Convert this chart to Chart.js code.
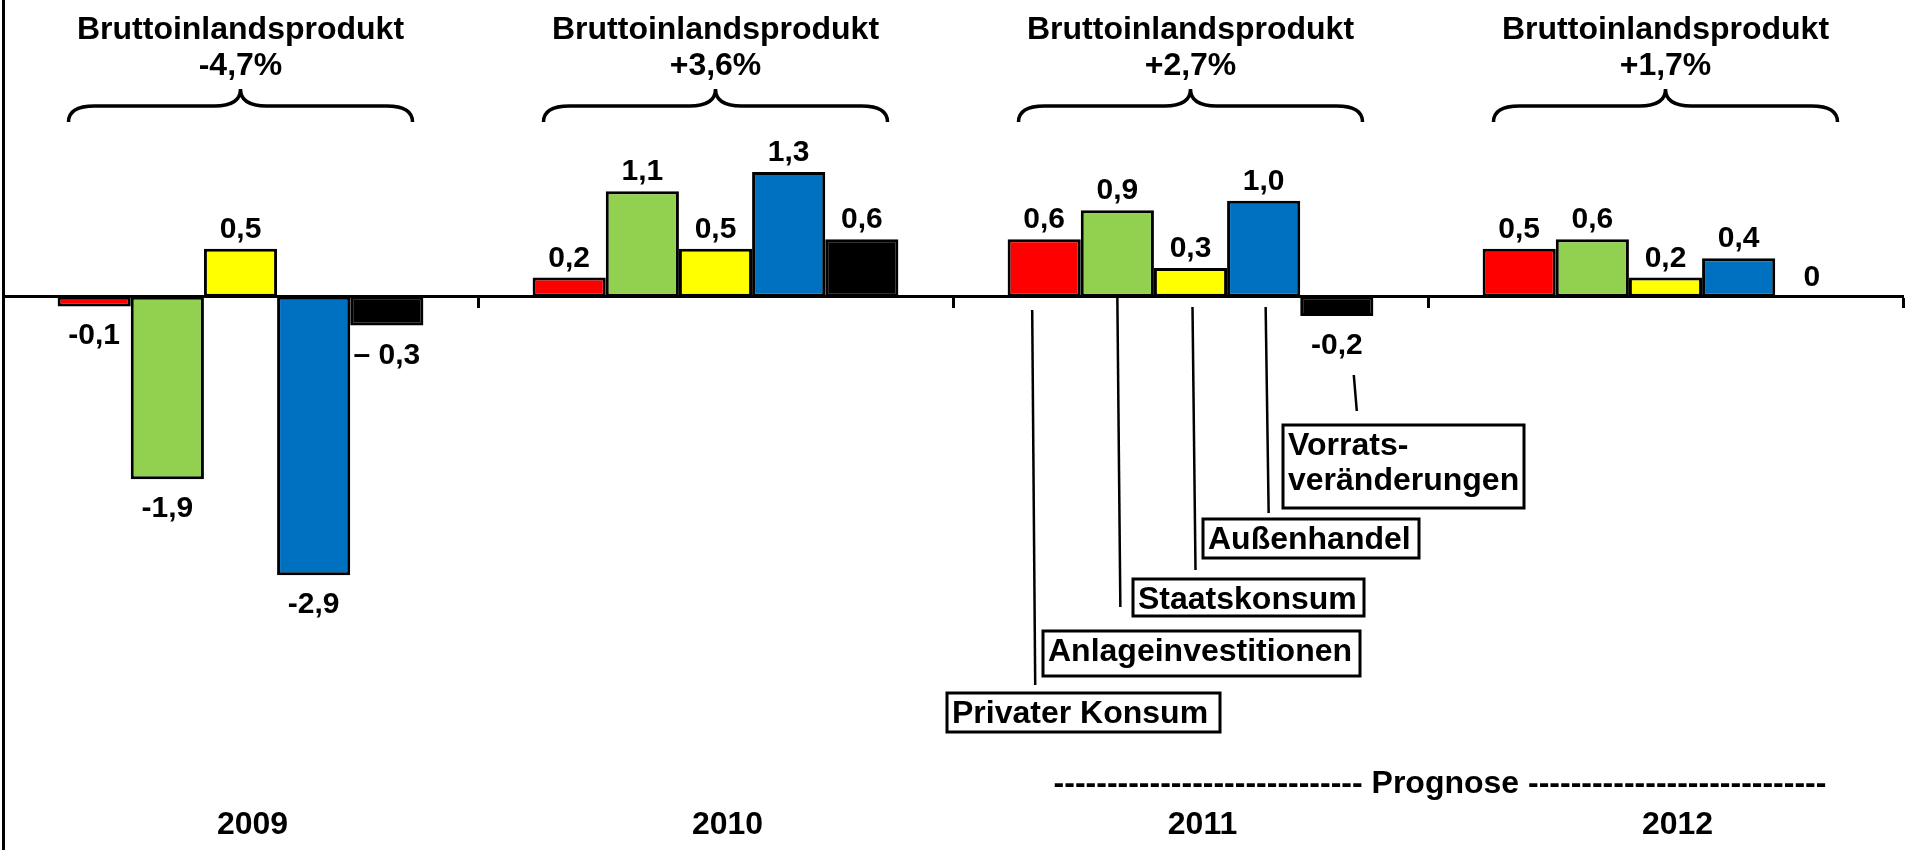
<!DOCTYPE html>
<html>
<head>
<meta charset="utf-8">
<script src="https://cdn.jsdelivr.net/npm/chart.js@4"></script>
<style>
  html, body { margin: 0; padding: 0; background: #fff; }
</style>
</head>
<body>
<canvas id="bipChart" width="1912" height="850"></canvas>
<script>
// Wachstumsbeiträge zum BIP (Prozentpunkte)
const years = ['2009', '2010', '2011', '2012'];
const gdpGrowth = [-4.7, 3.6, 2.7, 1.7];
const seriesNames = ['Privater Konsum', 'Anlageinvestitionen', 'Staatskonsum', 'Außenhandel', 'Vorratsveränderungen'];
const privaterKonsum = [-0.1, 0.2, 0.6, 0.5];
const anlageinvestitionen = [-1.9, 1.1, 0.9, 0.6];
const staatskonsum = [0.5, 0.5, 0.3, 0.2];
const aussenhandel = [-2.9, 1.3, 1.0, 0.4];
const vorratsveraenderungen = [-0.3, 0.6, -0.2, 0];
const calloutTexts = [['Privater Konsum'], ['Anlageinvestitionen'], ['Staatskonsum'], ['Außenhandel'], ['Vorrats-', 'veränderungen']];

const seriesColors = ['#ff0000', '#92d050', '#ffff00', '#0070c0', '#000000'];
const family = '"Liberation Sans", Arial, sans-serif';
Chart.defaults.font.family = family;

const fmt = v => v === 0 ? '0' : v.toFixed(1).replace('.', ',');
const labelOverrides = { '4-0': '\u2013 0,3' };

// callout boxes below the 2011 group (pixel layout)
const callouts = [
  { dx: -12, top: 310, bottom: 685, box: [947, 693, 273, 39] },
  { dx: 0, top: 298, bottom: 607, box: [1043, 631, 317, 45] },
  { dx: 2, top: 307, bottom: 570, box: [1133, 579, 231, 37] },
  { dx: 2, top: 307, bottom: 513, box: [1203, 519, 216, 39] },
  { dx: 17, top: 375, bottom: 411, box: [1283, 425, 241, 83] }
];

function brace(ctx, cx, half, yTip, yMid, yEnd) {
  const r = 26;
  ctx.beginPath();
  ctx.moveTo(cx - half, yEnd);
  ctx.quadraticCurveTo(cx - half, yMid, cx - half + r, yMid);
  ctx.lineTo(cx - r, yMid);
  ctx.quadraticCurveTo(cx, yMid, cx, yTip);
  ctx.quadraticCurveTo(cx, yMid, cx + r, yMid);
  ctx.lineTo(cx + half - r, yMid);
  ctx.quadraticCurveTo(cx + half, yMid, cx + half, yEnd);
  ctx.stroke();
}

const annotations = {
  id: 'annotations',
  afterDatasetsDraw(chart) {
    const { ctx, scales: { x } } = chart;
    ctx.save();
    ctx.fillStyle = '#000';
    ctx.strokeStyle = '#000';
    ctx.textBaseline = 'alphabetic';
    ctx.textAlign = 'center';

    // value labels
    ctx.font = 'bold 30px ' + family;
    chart.data.datasets.forEach((ds, i) => {
      chart.getDatasetMeta(i).data.forEach((bar, j) => {
        const v = ds.data[j];
        const text = labelOverrides[i + '-' + j] || fmt(v);
        ctx.fillText(text, bar.x, v >= 0 ? bar.y - 11 : bar.y + 38);
      });
    });

    // GDP titles and braces
    ctx.font = 'bold 32px ' + family;
    ctx.lineWidth = 3.5;
    gdpGrowth.forEach((g, j) => {
      const cx = x.getPixelForValue(j);
      ctx.fillText('Bruttoinlandsprodukt', cx, 39);
      ctx.fillText((g > 0 ? '+' : '') + g.toFixed(1).replace('.', ',') + '%', cx, 75);
      brace(ctx, cx, 172, 89, 106, 122);
    });

    // Prognose
    const px = (x.getPixelForValue(2) + x.getPixelForValue(3)) / 2 + 12;
    ctx.fillText('-'.repeat(29) + ' Prognose ' + '-'.repeat(28), px, 793);

    // callouts for the 2011 bars
    ctx.textAlign = 'left';
    callouts.forEach((c, i) => {
      const bar = chart.getDatasetMeta(i).data[2];
      ctx.lineWidth = 2.5;
      ctx.beginPath();
      ctx.moveTo(bar.x + c.dx, c.top);
      ctx.lineTo(bar.x + c.dx + 3, c.bottom);
      ctx.stroke();
      const [bx, by, bw, bh] = c.box;
      ctx.lineWidth = 3;
      ctx.strokeRect(bx, by, bw, bh);
      calloutTexts[i].forEach((line, k) => ctx.fillText(line, bx + 5, by + 30 + k * 35));
    });
    ctx.restore();
  }
};

const dataSeries = [privaterKonsum, anlageinvestitionen, staatskonsum, aussenhandel, vorratsveraenderungen];

const ctx = document.getElementById('bipChart').getContext('2d');
const bipChart = new Chart(ctx, {
  type: 'bar',
  data: {
    labels: years,
    datasets: dataSeries.map((d, i) => ({
      label: seriesNames[i],
      data: d,
      backgroundColor: seriesColors[i],
      borderColor: '#000',
      borderWidth: 3,
      borderSkipped: false,
      categoryPercentage: 0.77,
      barPercentage: 1.0
    }))
  },
  options: {
    responsive: false,
    animation: false,
    layout: { padding: { left: 3, right: 9, top: 0, bottom: 0 } },
    plugins: {
      legend: { display: false },
      tooltip: { enabled: false }
    },
    scales: {
      x: {
        position: { y: 0 },
        offset: true,
        grid: { display: true, drawOnChartArea: false, drawTicks: true, tickLength: 10, tickWidth: 3, tickColor: '#000', offset: true },
        border: { display: true, color: '#000', width: 3 },
        ticks: { display: false }
      },
      x2: {
        type: 'category',
        position: { y: -5.3 },
        offset: true,
        grid: { display: false, drawTicks: false },
        border: { display: false },
        ticks: { color: '#000', font: { size: 32, weight: 'bold' }, labelOffset: 12, padding: 0 }
      },
      y: {
        min: -5.76,
        max: 3.09,
        grid: { display: false, drawTicks: false },
        border: { display: true, color: '#000', width: 3 },
        ticks: { display: false }
      }
    }
  },
  plugins: [annotations]
});
</script>
</body>
</html>
